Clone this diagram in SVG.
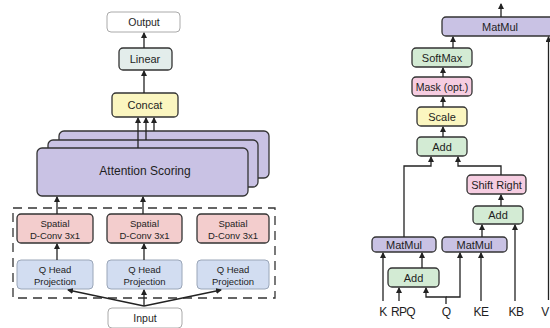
<svg xmlns="http://www.w3.org/2000/svg" width="550" height="328" viewBox="0 0 550 328">
<defs>
<marker id="ah" markerWidth="6" markerHeight="6" refX="5" refY="3" orient="auto" markerUnits="userSpaceOnUse">
<path d="M0,0 L6,3 L0,6 Z" fill="#222"/>
</marker>
<style>
text{font-family:"Liberation Sans",Arial,sans-serif;fill:#1e1e1e;text-anchor:middle;dominant-baseline:central}
.b{stroke:#333;stroke-width:1.3}
.lav{fill:#c9c2e4}
.grn{fill:#d3ebd4}
.pnk{fill:#f6cde1}
.yel{fill:#fbf6c0}
.red{fill:#f3cdcd}
.blu{fill:#d2ddf1;stroke:#9aa6b8;stroke-width:1}
.wht{fill:#fff;stroke:#aaa;stroke-width:1}
.c line,.c path{stroke:#222;stroke-width:1.3;fill:none;marker-end:url(#ah)}
.s9{font-size:9.5px}
.s10{font-size:10.5px}
.s11{font-size:11px}
.s12{font-size:12px}
.lbl{font-size:12px;letter-spacing:-0.6px}
</style>
</defs>
<rect width="550" height="328" fill="#fff"/>

<!-- Left diagram -->
<g id="output"><rect class="wht" x="107" y="12" width="73" height="20" rx="4"/><text class="s10" x="144" y="22">Output</text></g>
<g id="linear"><rect class="b" fill="#e3edeb" x="119" y="48" width="53" height="22" rx="4"/><text class="s11" x="145" y="59">Linear</text></g>
<g id="concat"><rect class="b yel" x="112" y="93" width="66" height="24" rx="4"/><text class="s11" x="145" y="105">Concat</text></g>
<g id="attention-3"><rect class="b lav" x="59" y="131" width="210" height="47" rx="5"/></g>
<g id="attention-2"><rect class="b lav" x="48" y="140" width="210" height="47" rx="5"/></g>
<g id="attention"><rect class="b lav" x="37" y="148" width="211" height="48" rx="5"/><text class="s12" x="145" y="171">Attention Scoring</text></g>
<g id="heads"><rect x="13" y="208" width="262" height="90" fill="none" stroke="#333" stroke-width="1.3" stroke-dasharray="9,6"/></g>
<g id="dconv1"><rect class="b red" x="17" y="214" width="76" height="29" rx="4"/><text class="s9" x="55" y="223">Spatial</text><text class="s9" x="55" y="235">D-Conv 3x1</text></g>
<g id="dconv2"><rect class="b red" x="107" y="214" width="75" height="29" rx="4"/><text class="s9" x="144.5" y="223">Spatial</text><text class="s9" x="144.5" y="235">D-Conv 3x1</text></g>
<g id="dconv3"><rect class="b red" x="197" y="214" width="72" height="29" rx="4"/><text class="s9" x="233" y="223">Spatial</text><text class="s9" x="233" y="235">D-Conv 3x1</text></g>
<g id="qhead1"><rect class="blu" x="17" y="260" width="76" height="29" rx="4"/><text class="s9" x="55" y="269">Q Head</text><text class="s9" x="55" y="281">Projection</text></g>
<g id="qhead2"><rect class="blu" x="107" y="260" width="75" height="29" rx="4"/><text class="s9" x="144.5" y="269">Q Head</text><text class="s9" x="144.5" y="281">Projection</text></g>
<g id="qhead3"><rect class="blu" x="197" y="260" width="72" height="29" rx="4"/><text class="s9" x="233" y="269">Q Head</text><text class="s9" x="233" y="281">Projection</text></g>
<g id="input"><rect class="wht" x="108" y="308" width="74" height="20" rx="4"/><text class="s10" x="145" y="318">Input</text></g>

<!-- Right diagram -->
<g id="matmul-top"><rect class="b lav" x="442" y="17" width="125" height="19" rx="4"/><text class="s11" x="500" y="26.5">MatMul</text></g>
<g id="softmax"><rect class="b grn" x="412" y="48" width="60" height="19" rx="4"/><text class="s11" x="442" y="57.5">SoftMax</text></g>
<g id="mask"><rect class="b pnk" x="412" y="77" width="60" height="19" rx="4"/><text class="s10" x="442" y="86.5">Mask (opt.)</text></g>
<g id="scale"><rect class="b yel" x="417" y="107" width="50" height="19" rx="4"/><text class="s11" x="442" y="116.5">Scale</text></g>
<g id="add-top"><rect class="b grn" x="417" y="137" width="50" height="19" rx="4"/><text class="s11" x="442" y="146.5">Add</text></g>
<g id="shift-right"><rect class="b pnk" x="467" y="175" width="59" height="19" rx="4"/><text class="s11" x="496.5" y="184.5">Shift Right</text></g>
<g id="add-right"><rect class="b grn" x="473" y="206" width="50" height="18" rx="4"/><text class="s11" x="498" y="215">Add</text></g>
<g id="matmul-left"><rect class="b lav" x="372" y="237" width="64" height="15" rx="4"/><text class="s11" x="404" y="244.5">MatMul</text></g>
<g id="matmul-mid"><rect class="b lav" x="442" y="237" width="65" height="15" rx="4"/><text class="s11" x="474.5" y="244.5">MatMul</text></g>
<g id="add-bottom"><rect class="b grn" x="388" y="268" width="51" height="19" rx="4"/><text class="s11" x="413.5" y="277.5">Add</text></g>
<g id="labels" class="lbl">
<text x="383" y="312">K</text><text x="403" y="312">RPQ</text><text x="446" y="312">Q</text><text x="481" y="312">KE</text><text x="516" y="312">KB</text><text x="545" y="312">V</text>
</g>

<g id="connectors" class="c">
<line x1="144" y1="48" x2="144" y2="33"/>
<line x1="144" y1="93" x2="144" y2="71"/>
<line x1="138" y1="148" x2="138" y2="118"/>
<line x1="146" y1="140" x2="146" y2="118"/>
<line x1="154" y1="131" x2="154" y2="118"/>
<line x1="57" y1="214" x2="57" y2="197"/>
<line x1="143" y1="214" x2="143" y2="197"/>
<line x1="57" y1="260" x2="57" y2="244"/>
<line x1="144" y1="260" x2="144" y2="244"/>
<line x1="144" y1="306" x2="68" y2="290"/>
<line x1="144" y1="306" x2="144" y2="290"/>
<line x1="144" y1="306" x2="221" y2="290"/>

<line x1="501" y1="17" x2="501" y2="4"/>
<line x1="548.5" y1="300" x2="548.5" y2="37"/>
<line x1="453" y1="48" x2="453" y2="37"/>
<line x1="443" y1="77" x2="443" y2="68"/>
<line x1="443" y1="107" x2="443" y2="97"/>
<line x1="443" y1="137" x2="443" y2="127"/>
<path d="M404,237 V166 H431 V157"/>
<path d="M501,175 V166 H458 V157"/>
<line x1="501" y1="206" x2="501" y2="195"/>
<line x1="482" y1="237" x2="482" y2="225"/>
<line x1="515" y1="301" x2="515" y2="225"/>
<line x1="383" y1="301" x2="383" y2="253"/>
<line x1="399" y1="301" x2="399" y2="288"/>
<line x1="422" y1="268" x2="422" y2="253"/>
<path d="M446,304 V297 H426 V288"/>
<path d="M446,297 H460 V253"/>
<line x1="481" y1="301" x2="481" y2="253"/>
</g>
</svg>
